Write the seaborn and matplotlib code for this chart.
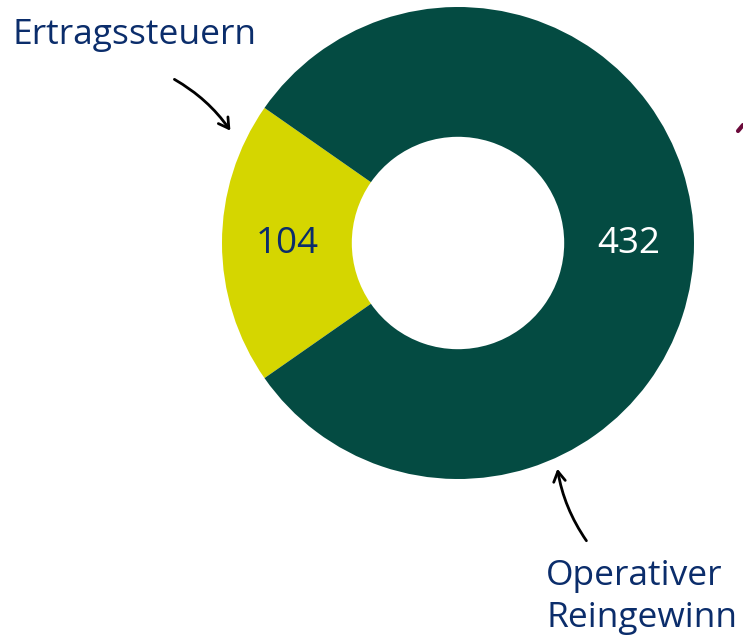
import matplotlib
matplotlib.use("Agg")
import numpy as np
import seaborn as sns
from matplotlib import pyplot as plt

# Daten
labels = ["Ertragssteuern", "Operativer\nReingewinn"]
values = [104, 432]
colors = ["#d5d600", "#044b42"]
value_colors = ["#0b2d6b", "white"]

sns.set_theme(style="white")
plt.rcParams["font.family"] = ["Open Sans", "DejaVu Sans"]

W, H = 743, 638
fig = plt.figure(figsize=(W / 100, H / 100), dpi=100)
ax = fig.add_axes([0, 0, 1, 1])

# Donut: Pixelkoordinaten, y nach oben
cx, cy, r = 458, H - 243, 236
start = 180 - values[0] / sum(values) * 180
wedges, _ = ax.pie(
    values,
    colors=colors,
    startangle=start,
    counterclock=True,
    center=(cx, cy),
    radius=r,
    wedgeprops=dict(width=r * 0.55, linewidth=0),
)
ax.set_xlim(0, W)
ax.set_ylim(0, H)
ax.set_aspect("equal")
ax.axis("off")

# Werte in den Segmenten
for w, v, c in zip(wedges, values, value_colors):
    ang = np.deg2rad((w.theta1 + w.theta2) / 2)
    rr = r * 0.725
    ax.text(cx + rr * np.cos(ang), cy + rr * np.sin(ang) - 1, str(v),
            color=c, fontsize=26.5, ha="center", va="center")

navy = "#0b2d6b"
ax.text(12, H - 35, labels[0], color=navy, fontsize=25.5, ha="left", va="center")
ax.text(546, H - 597, labels[1], color=navy, fontsize=25.5, ha="left", va="center",
        linespacing=1.3)

# Pfeile
ax.annotate("", xy=(232, H - 133), xytext=(172, H - 78),
            arrowprops=dict(arrowstyle="->,head_length=0.6,head_width=0.35",
                            color="black", lw=2,
                            connectionstyle="arc3,rad=-0.12"))
ax.annotate("", xy=(557, H - 466), xytext=(588, H - 543),
            arrowprops=dict(arrowstyle="->,head_length=0.6,head_width=0.35",
                            color="black", lw=2,
                            connectionstyle="arc3,rad=-0.12"))

# kleines Fragment am rechten Rand
ax.plot([738, 743], [H - 131, H - 125], color="#6b0a3a", lw=3,
        solid_capstyle="round")

fig.savefig("out.png", dpi=100)
